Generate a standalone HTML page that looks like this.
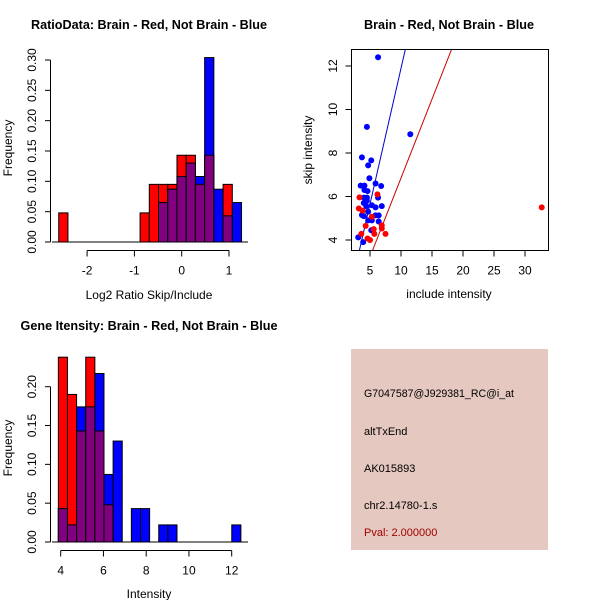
<!DOCTYPE html>
<html><head><meta charset="utf-8"><style>
html,body{margin:0;padding:0;background:#fff}
svg{display:block;font-family:"Liberation Sans",sans-serif}
</style></head><body>
<svg id="chart" width="600" height="600" viewBox="0 0 600 600">
<g>
<text x="149" y="29" text-anchor="middle" font-weight="bold" font-size="13" textLength="236" lengthAdjust="spacingAndGlyphs">RatioData: Brain - Red, Not Brain - Blue</text>
<text x="449" y="29" text-anchor="middle" font-weight="bold" font-size="13" textLength="170" lengthAdjust="spacingAndGlyphs">Brain - Red, Not Brain - Blue</text>
<text x="149" y="330" text-anchor="middle" font-weight="bold" font-size="13" textLength="257" lengthAdjust="spacingAndGlyphs">Gene Itensity: Brain - Red, Not Brain - Blue</text>
</g>
<g id="p1"></g>
<g id="p2"></g>
<g id="p3"></g>
<g>
<rect x="351" y="349" width="197" height="201" fill="#e5c8c0"/>
<g font-size="11" fill="#000">
<text x="364" y="397" textLength="150" lengthAdjust="spacingAndGlyphs">G7047587@J929381_RC@i_at</text>
<text x="364" y="435">altTxEnd</text>
<text x="364" y="472">AK015893</text>
<text x="364" y="509">chr2.14780-1.s</text>
<text x="364" y="536" fill="#a00000">Pval: 2.000000</text>
</g></g>
</svg>
<script>
// ---- Ratio histogram data ----
const ratioBinStarts = [-2.6, -0.88, -0.685, -0.49, -0.295, -0.1, 0.095, 0.29, 0.485, 0.68, 0.875, 1.07];
const ratioBinWidth = 0.195;
const ratioRed  = [0.048, 0.048, 0.095, 0.095, 0.095, 0.143, 0.143, 0.095, 0.143, 0, 0.095, 0];
const ratioBlue = [0, 0, 0, 0.065, 0.087, 0.108, 0.130, 0.108, 0.304, 0.087, 0.043, 0.065];
const ratioXTicks = [-2, -1, 0, 1];
const ratioYTicks = ["0.00","0.05","0.10","0.15","0.20","0.25","0.30"];
// ---- Intensity histogram data ----
const intBinStart = 3.89;
const intBinWidth = 0.427;
const intRed  = [0.238, 0.19, 0.143, 0.238, 0.143, 0.048, 0,0,0,0,0,0,0,0,0,0,0,0,0,0];
const intBlue = [0.043, 0.022, 0.174, 0.174, 0.217, 0.087, 0.13, 0, 0.043, 0.043, 0, 0.022, 0.022, 0,0,0,0,0,0, 0.022];
const intXTicks = [4, 6, 8, 10, 12];
const intYTicks = ["0.00","0.05","0.10","0.15","0.20"];
// ---- Scatter data ----
const blueX = [6.3,11.5,4.5,3.7,5.2,4.7,4.9,5.9,6.8,3.5,4.1,4.1,4.6,4.0,4.5,6.3,4.0,4.4,5.3,5.9,6.9,4.7,3.7,4.0,5.9,6.4,4.7,5.3,6.4,5.2,3.1,3.9,4.5];
const blueY = [12.4,8.86,9.2,7.8,7.66,7.43,6.84,6.6,6.48,6.5,6.5,6.3,6.25,5.95,5.95,5.95,5.7,5.55,5.6,5.5,5.56,5.3,5.15,5.1,5.13,5.13,4.9,4.9,4.85,4.45,4.12,3.9,5.8];
const redX = [3.3,3.2,3.8,6.2,3.6,4.3,4.6,5.0,5.7,6.9,6.9,7.5,5.6,32.7,5.3];
const redY = [5.96,5.45,5.35,6.1,4.28,4.65,4.07,4.0,4.28,4.67,4.53,4.28,4.5,5.5,5.07];
const blueFit = [-0.58, 1.247]; // intercept, slope
const redFit = [-0.4, 0.725];
const scatterXTicks = [5,10,15,20,25,30];
const scatterYTicks = [4,6,8,10,12];

const NS = "http://www.w3.org/2000/svg";
function mk(parent, tag, attrs){const e=document.createElementNS(NS,tag);for(const k in attrs)e.setAttribute(k,attrs[k]);parent.appendChild(e);return e;}

function hist(g, starts, w, red, blue, xs, ys, xTicks, yTicks, yStep, axisY, xTitle, xTitleY, yTitleY){
  const n = red.length;
  for(let i=0;i<n;i++){
    const s = Array.isArray(starts)?starts[i]:starts+i*w;
    const x0 = xs(s);
    const x1 = xs(s+w);
    const r = red[i], b = blue[i], m = Math.min(r,b);
    if(r>0){const e=mk(g,'rect',{x:x0,y:ys(r),width:x1-x0,height:ys(0)-ys(r),fill:'#ff0000',stroke:'#000','stroke-width':1});
      
      }
    if(b>0){const e=mk(g,'rect',{x:x0,y:ys(b),width:x1-x0,height:ys(0)-ys(b),fill:'#0000ff',stroke:'#000','stroke-width':1});
      
      }
    if(m>0){const e=mk(g,'rect',{x:x0,y:ys(m),width:x1-x0,height:ys(0)-ys(m),fill:'#800080',stroke:'#000','stroke-width':1});
      
      }
  }
  const base = mk(g,'line',{x1:52,x2:248,y1:ys(0),y2:ys(0),stroke:'#000'});
  
  
  const yTop = ys((yTicks.length-1)*yStep);
  const ya = mk(g,'line',{x1:50.5,x2:50.5,y1:ys(0),y2:yTop,stroke:'#000'});
  
  
  yTicks.forEach((t,i)=>{
    const y=ys(i*yStep);
    mk(g,'line',{x1:45,x2:50.5,y1:y,y2:y,stroke:'#000'});
    const tx=mk(g,'text',{x:0,y:0,transform:`translate(36,${y}) rotate(-90)`,'text-anchor':'middle','font-size':12});
    tx.textContent=t;
    
    
  });
  const xa = mk(g,'line',{x1:xs(xTicks[0]),x2:xs(xTicks[xTicks.length-1]),y1:axisY,y2:axisY,stroke:'#000'});
  
  
  xTicks.forEach(t=>{
    const x=xs(t);
    mk(g,'line',{x1:x,x2:x,y1:axisY,y2:axisY+6,stroke:'#000'});
    const tx=mk(g,'text',{x:x,y:axisY+24,'text-anchor':'middle','font-size':12});
    tx.textContent=t;
    
    
  });
  const xt=mk(g,'text',{x:149,y:xTitleY,'text-anchor':'middle','font-size':12});
  xt.textContent=xTitle;
  
  
  const yt=mk(g,'text',{x:0,y:0,transform:`translate(12,${yTitleY}) rotate(-90)`,'text-anchor':'middle','font-size':12});
  yt.textContent='Frequency';
  
  
}

// Panel 1
{
  const xs = v => 181.7 + v*47.3;
  const ys = v => 242 - v*(182/0.30);
  hist(document.getElementById('p1'), ratioBinStarts, ratioBinWidth, ratioRed, ratioBlue, xs, ys, ratioXTicks, ratioYTicks, 0.05, 250.5, 'Log2 Ratio Skip/Include', 299, 148);
}
// Panel 3
{
  const xs = v => 60.7 + (v-4)*21.375;
  const ys = v => 542 - v*(155.3/0.20);
  hist(document.getElementById('p3'), intBinStart, intBinWidth, intRed, intBlue, xs, ys, intXTicks, intYTicks, 0.05, 550.5, 'Intensity', 598, 448);
}
// Panel 2 scatter
{
  const g = document.getElementById('p2');
  const xs = v => 370 + (v-5)*6.2;
  const ys = v => 240 - (v-4)*21.75;
  const L=351.5, R=548.5, T=49.5, B=250.5;
  const clip = mk(g,'clipPath',{id:'sc'});
  mk(clip,'rect',{x:L,y:T,width:R-L,height:B-T});
  const lg = mk(g,'g',{'clip-path':'url(#sc)'});
  [[blueFit,'#0000cc','blue-fit-line'],[redFit,'#cc0000','red-fit-line']].forEach(([f,c,n])=>{
    const xa=0, xb=40;
    const l=mk(lg,'line',{x1:xs(xa),y1:ys(f[0]+f[1]*xa),x2:xs(xb),y2:ys(f[0]+f[1]*xb),stroke:c,'stroke-width':1});
    
    
  });
  blueX.forEach((x,i)=>{
    const c=mk(lg,'circle',{cx:xs(x),cy:ys(blueY[i]),r:3,fill:'#0000ff'});
    
    
  });
  redX.forEach((x,i)=>{
    const c=mk(lg,'circle',{cx:xs(x),cy:ys(redY[i]),r:3,fill:'#ff0000'});
    
    
  });
  const box=mk(g,'rect',{x:L,y:T,width:R-L,height:B-T,fill:'none',stroke:'#000'});
  
  
  scatterXTicks.forEach(t=>{
    const x=xs(t);
    mk(g,'line',{x1:x,x2:x,y1:B,y2:B+6,stroke:'#000'});
    const tx=mk(g,'text',{x:x,y:B+24,'text-anchor':'middle','font-size':12});
    tx.textContent=t;
    
    
  });
  scatterYTicks.forEach(t=>{
    const y=ys(t);
    mk(g,'line',{x1:L-6,x2:L,y1:y,y2:y,stroke:'#000'});
    const tx=mk(g,'text',{x:0,y:0,transform:`translate(337,${y}) rotate(-90)`,'text-anchor':'middle','font-size':12});
    tx.textContent=t;
    
    
  });
  const xt=mk(g,'text',{x:449,y:298,'text-anchor':'middle','font-size':12});
  xt.textContent='include intensity';
  
  
  const yt=mk(g,'text',{x:0,y:0,transform:`translate(312,150) rotate(-90)`,'text-anchor':'middle','font-size':12});
  yt.textContent='skip intensity';
  
  
}
</script>
</body></html>
